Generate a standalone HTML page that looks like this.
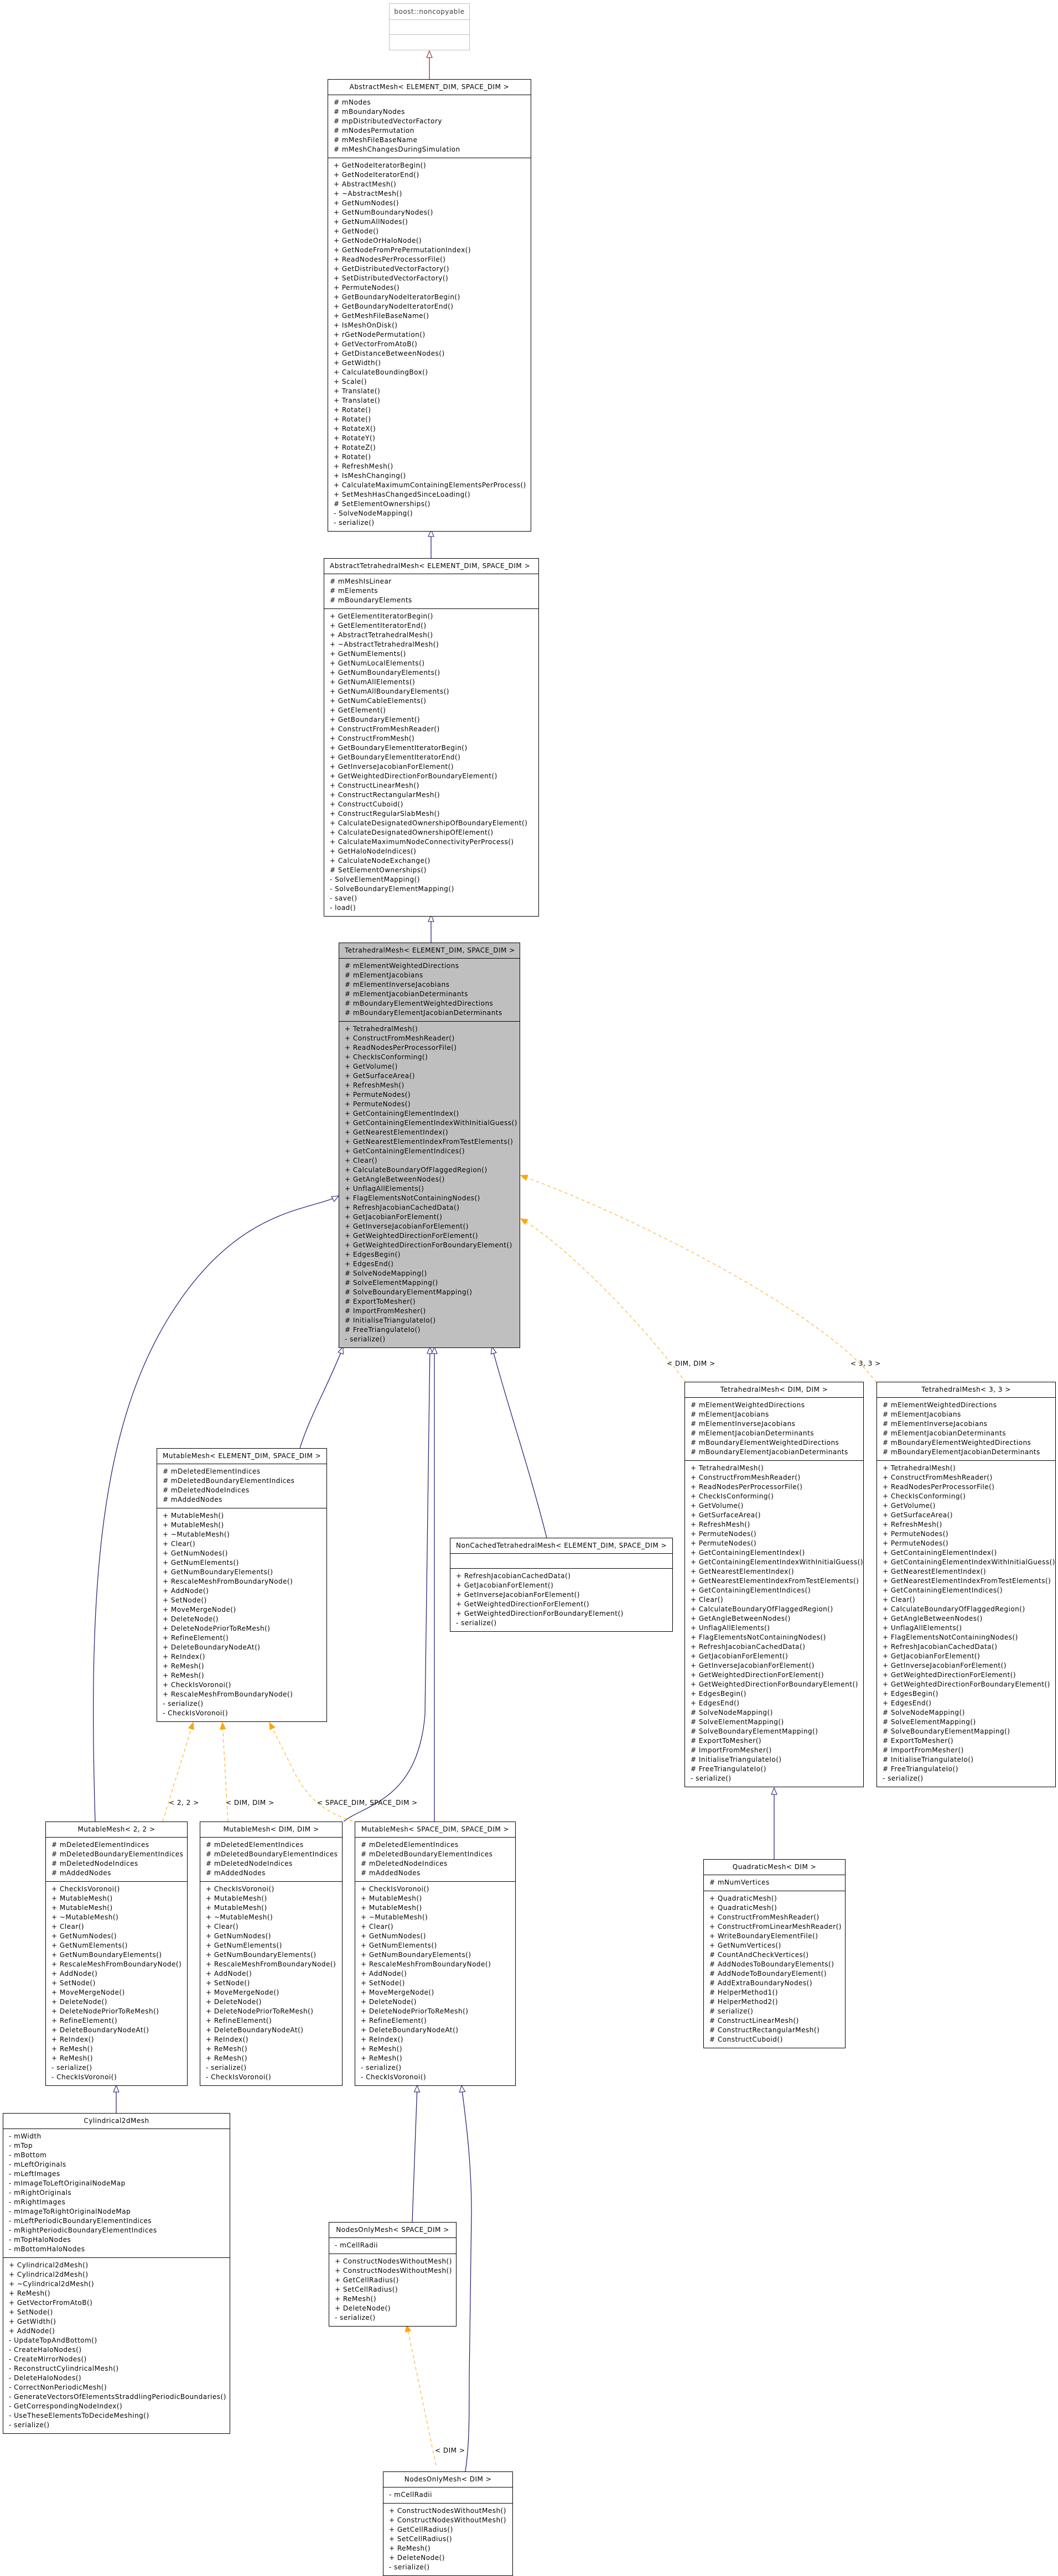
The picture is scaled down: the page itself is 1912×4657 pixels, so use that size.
<!DOCTYPE html>
<html><head><meta charset="utf-8">
<style>
html,body{margin:0;padding:0;background:#fff;}
body{width:1912px;height:4653px;position:relative;overflow:hidden;}
.b{position:absolute;box-sizing:border-box;border:1px solid #000;background:#fff;font-family:"DejaVu Sans","Liberation Sans",sans-serif;font-size:12px;line-height:17px;color:#000;letter-spacing:0.5px;}
.g{background:#bfbfbf;}
.h{height:27px;line-height:27px;text-align:center;border-bottom:1px solid #000;white-space:nowrap;}
.h.l{text-align:left;padding-left:10px;}
.s{padding:5px 10px 6px;white-space:pre;}
.a{border-bottom:1px solid #000;}
.e{height:26px;border-bottom:1px solid #000;}
.nc{border-color:#bfbfbf;color:#404040;}
.nc .h,.nc .e{border-color:#bfbfbf;}
svg{position:absolute;left:0;top:0;}
</style></head><body>

<svg width="1912" height="4653" viewBox="0 0 1912 4653" font-family="DejaVu Sans, Liberation Sans, sans-serif" font-size="12" letter-spacing="0.5">
<defs>
<marker id="hb" markerUnits="userSpaceOnUse" markerWidth="16" markerHeight="14" refX="13" refY="6" orient="auto"><path d="M1,1 L13,6 L1,11 z" fill="#fff" stroke="#191970" stroke-width="1"/></marker>
<marker id="hr" markerUnits="userSpaceOnUse" markerWidth="16" markerHeight="14" refX="13" refY="6" orient="auto"><path d="M1,1 L13,6 L1,11 z" fill="#fff" stroke="#8b1a1a" stroke-width="1"/></marker>
<marker id="ho" markerUnits="userSpaceOnUse" markerWidth="16" markerHeight="14" refX="13" refY="6" orient="auto"><path d="M1,1 L13,6 L1,11 z" fill="#ffa500" stroke="#ffa500" stroke-width="1"/></marker>
</defs>
<g fill="none" stroke-width="1.2">
<path d="M776,143 L776,92" stroke="#8b1a1a" marker-end="url(#hr)"/>
<path d="M779,1009 L779,958" stroke="#191970" marker-end="url(#hb)"/>
<path d="M779,1704 L779,1654" stroke="#191970" marker-end="url(#hb)"/>
<path d="M172,3293 C160,2900 175,2600 300,2390 S560,2190 612,2162" stroke="#191970" marker-end="url(#hb)"/>
<path d="M542,2618 C560,2560 595,2500 620,2435" stroke="#191970" marker-end="url(#hb)"/>
<path d="M621,3293 C660,3262 755,3255 768,3100 L777,2435" stroke="#191970" marker-end="url(#hb)"/>
<path d="M785,3293 L785,2435" stroke="#191970" marker-end="url(#hb)"/>
<path d="M988,2780 C955,2650 920,2550 889,2435" stroke="#191970" marker-end="url(#hb)"/>
<path d="M1399,3361 L1399,3232" stroke="#191970" marker-end="url(#hb)"/>
<path d="M210,3820 L210,3770" stroke="#191970" marker-end="url(#hb)"/>
<path d="M745,4017 L754,3770" stroke="#191970" marker-end="url(#hb)"/>
<path d="M841,4468 C848,4420 848,4380 848,4300 L852,4000 C852,3900 840,3820 834,3770" stroke="#191970" marker-end="url(#hb)"/>
<g stroke="#ffa500" stroke-dasharray="6,5" stroke-width="1">
<path d="M1240,2500 C1150,2380 1020,2250 941,2203" marker-end="url(#ho)"/>
<path d="M1584,2500 C1500,2380 1150,2200 941,2125" marker-end="url(#ho)"/>
<path d="M294,3293 L349,3114" marker-end="url(#ho)"/>
<path d="M412,3293 L402,3114" marker-end="url(#ho)"/>
<path d="M648,3295 C600,3282 560,3262 530,3200 L487,3114" marker-end="url(#ho)"/>
<path d="M788,4457 L735,4203" marker-end="url(#ho)"/>
</g>
</g>
<g fill="#000">
<text x="1205" y="2469">&lt; DIM, DIM &gt;</text>
<text x="1537" y="2469">&lt; 3, 3 &gt;</text>
<text x="305" y="3263">&lt; 2, 2 &gt;</text>
<text x="408" y="3263">&lt; DIM, DIM &gt;</text>
<text x="573" y="3263">&lt; SPACE_DIM, SPACE_DIM &gt;</text>
<text x="786" y="4434">&lt; DIM &gt;</text>
</g>
</svg>

<div class="b nc" style="left:703px;top:6px;width:146px;">
<div class="h" style="height:28px;line-height:28px;">boost::noncopyable</div>
<div class="e"></div>
<div style="height:27px;"></div>
</div>

<div class="b" style="left:592px;top:143px;width:368px;">
<div class="h">AbstractMesh&lt; ELEMENT_DIM, SPACE_DIM &gt;</div>
<div class="s a"># mNodes
# mBoundaryNodes
# mpDistributedVectorFactory
# mNodesPermutation
# mMeshFileBaseName
# mMeshChangesDuringSimulation</div>
<div class="s">+ GetNodeIteratorBegin()
+ GetNodeIteratorEnd()
+ AbstractMesh()
+ ~AbstractMesh()
+ GetNumNodes()
+ GetNumBoundaryNodes()
+ GetNumAllNodes()
+ GetNode()
+ GetNodeOrHaloNode()
+ GetNodeFromPrePermutationIndex()
+ ReadNodesPerProcessorFile()
+ GetDistributedVectorFactory()
+ SetDistributedVectorFactory()
+ PermuteNodes()
+ GetBoundaryNodeIteratorBegin()
+ GetBoundaryNodeIteratorEnd()
+ GetMeshFileBaseName()
+ IsMeshOnDisk()
+ rGetNodePermutation()
+ GetVectorFromAtoB()
+ GetDistanceBetweenNodes()
+ GetWidth()
+ CalculateBoundingBox()
+ Scale()
+ Translate()
+ Translate()
+ Rotate()
+ Rotate()
+ RotateX()
+ RotateY()
+ RotateZ()
+ Rotate()
+ RefreshMesh()
+ IsMeshChanging()
+ CalculateMaximumContainingElementsPerProcess()
+ SetMeshHasChangedSinceLoading()
# SetElementOwnerships()
- SolveNodeMapping()
- serialize()</div>
</div>

<div class="b" style="left:585px;top:1009px;width:389px;">
<div class="h l">AbstractTetrahedralMesh&lt; ELEMENT_DIM, SPACE_DIM &gt;</div>
<div class="s a"># mMeshIsLinear
# mElements
# mBoundaryElements</div>
<div class="s">+ GetElementIteratorBegin()
+ GetElementIteratorEnd()
+ AbstractTetrahedralMesh()
+ ~AbstractTetrahedralMesh()
+ GetNumElements()
+ GetNumLocalElements()
+ GetNumBoundaryElements()
+ GetNumAllElements()
+ GetNumAllBoundaryElements()
+ GetNumCableElements()
+ GetElement()
+ GetBoundaryElement()
+ ConstructFromMeshReader()
+ ConstructFromMesh()
+ GetBoundaryElementIteratorBegin()
+ GetBoundaryElementIteratorEnd()
+ GetInverseJacobianForElement()
+ GetWeightedDirectionForBoundaryElement()
+ ConstructLinearMesh()
+ ConstructRectangularMesh()
+ ConstructCuboid()
+ ConstructRegularSlabMesh()
+ CalculateDesignatedOwnershipOfBoundaryElement()
+ CalculateDesignatedOwnershipOfElement()
+ CalculateMaximumNodeConnectivityPerProcess()
+ GetHaloNodeIndices()
+ CalculateNodeExchange()
# SetElementOwnerships()
- SolveElementMapping()
- SolveBoundaryElementMapping()
- save()
- load()</div>
</div>

<div class="b g" style="left:612px;top:1704px;width:328px;">
<div class="h l">TetrahedralMesh&lt; ELEMENT_DIM, SPACE_DIM &gt;</div>
<div class="s a"># mElementWeightedDirections
# mElementJacobians
# mElementInverseJacobians
# mElementJacobianDeterminants
# mBoundaryElementWeightedDirections
# mBoundaryElementJacobianDeterminants</div>
<div class="s">+ TetrahedralMesh()
+ ConstructFromMeshReader()
+ ReadNodesPerProcessorFile()
+ CheckIsConforming()
+ GetVolume()
+ GetSurfaceArea()
+ RefreshMesh()
+ PermuteNodes()
+ PermuteNodes()
+ GetContainingElementIndex()
+ GetContainingElementIndexWithInitialGuess()
+ GetNearestElementIndex()
+ GetNearestElementIndexFromTestElements()
+ GetContainingElementIndices()
+ Clear()
+ CalculateBoundaryOfFlaggedRegion()
+ GetAngleBetweenNodes()
+ UnflagAllElements()
+ FlagElementsNotContainingNodes()
+ RefreshJacobianCachedData()
+ GetJacobianForElement()
+ GetInverseJacobianForElement()
+ GetWeightedDirectionForElement()
+ GetWeightedDirectionForBoundaryElement()
+ EdgesBegin()
+ EdgesEnd()
# SolveNodeMapping()
# SolveElementMapping()
# SolveBoundaryElementMapping()
# ExportToMesher()
# ImportFromMesher()
# InitialiseTriangulateIo()
# FreeTriangulateIo()
- serialize()</div>
</div>

<div class="b" style="left:283px;top:2618px;width:308px;">
<div class="h l">MutableMesh&lt; ELEMENT_DIM, SPACE_DIM &gt;</div>
<div class="s a"># mDeletedElementIndices
# mDeletedBoundaryElementIndices
# mDeletedNodeIndices
# mAddedNodes</div>
<div class="s">+ MutableMesh()
+ MutableMesh()
+ ~MutableMesh()
+ Clear()
+ GetNumNodes()
+ GetNumElements()
+ GetNumBoundaryElements()
+ RescaleMeshFromBoundaryNode()
+ AddNode()
+ SetNode()
+ MoveMergeNode()
+ DeleteNode()
+ DeleteNodePriorToReMesh()
+ RefineElement()
+ DeleteBoundaryNodeAt()
+ ReIndex()
+ ReMesh()
+ ReMesh()
+ CheckIsVoronoi()
+ RescaleMeshFromBoundaryNode()
- serialize()
- CheckIsVoronoi()</div>
</div>

<div class="b" style="left:813px;top:2780px;width:403px;">
<div class="h l">NonCachedTetrahedralMesh&lt; ELEMENT_DIM, SPACE_DIM &gt;</div>
<div class="e"></div>
<div class="s">+ RefreshJacobianCachedData()
+ GetJacobianForElement()
+ GetInverseJacobianForElement()
+ GetWeightedDirectionForElement()
+ GetWeightedDirectionForBoundaryElement()
- serialize()</div>
</div>

<div class="b" style="left:1237px;top:2498px;width:324px;">
<div class="h">TetrahedralMesh&lt; DIM, DIM &gt;</div>
<div class="s a"># mElementWeightedDirections
# mElementJacobians
# mElementInverseJacobians
# mElementJacobianDeterminants
# mBoundaryElementWeightedDirections
# mBoundaryElementJacobianDeterminants</div>
<div class="s">+ TetrahedralMesh()
+ ConstructFromMeshReader()
+ ReadNodesPerProcessorFile()
+ CheckIsConforming()
+ GetVolume()
+ GetSurfaceArea()
+ RefreshMesh()
+ PermuteNodes()
+ PermuteNodes()
+ GetContainingElementIndex()
+ GetContainingElementIndexWithInitialGuess()
+ GetNearestElementIndex()
+ GetNearestElementIndexFromTestElements()
+ GetContainingElementIndices()
+ Clear()
+ CalculateBoundaryOfFlaggedRegion()
+ GetAngleBetweenNodes()
+ UnflagAllElements()
+ FlagElementsNotContainingNodes()
+ RefreshJacobianCachedData()
+ GetJacobianForElement()
+ GetInverseJacobianForElement()
+ GetWeightedDirectionForElement()
+ GetWeightedDirectionForBoundaryElement()
+ EdgesBegin()
+ EdgesEnd()
# SolveNodeMapping()
# SolveElementMapping()
# SolveBoundaryElementMapping()
# ExportToMesher()
# ImportFromMesher()
# InitialiseTriangulateIo()
# FreeTriangulateIo()
- serialize()</div>
</div>

<div class="b" style="left:1584px;top:2498px;width:324px;">
<div class="h">TetrahedralMesh&lt; 3, 3 &gt;</div>
<div class="s a"># mElementWeightedDirections
# mElementJacobians
# mElementInverseJacobians
# mElementJacobianDeterminants
# mBoundaryElementWeightedDirections
# mBoundaryElementJacobianDeterminants</div>
<div class="s">+ TetrahedralMesh()
+ ConstructFromMeshReader()
+ ReadNodesPerProcessorFile()
+ CheckIsConforming()
+ GetVolume()
+ GetSurfaceArea()
+ RefreshMesh()
+ PermuteNodes()
+ PermuteNodes()
+ GetContainingElementIndex()
+ GetContainingElementIndexWithInitialGuess()
+ GetNearestElementIndex()
+ GetNearestElementIndexFromTestElements()
+ GetContainingElementIndices()
+ Clear()
+ CalculateBoundaryOfFlaggedRegion()
+ GetAngleBetweenNodes()
+ UnflagAllElements()
+ FlagElementsNotContainingNodes()
+ RefreshJacobianCachedData()
+ GetJacobianForElement()
+ GetInverseJacobianForElement()
+ GetWeightedDirectionForElement()
+ GetWeightedDirectionForBoundaryElement()
+ EdgesBegin()
+ EdgesEnd()
# SolveNodeMapping()
# SolveElementMapping()
# SolveBoundaryElementMapping()
# ExportToMesher()
# ImportFromMesher()
# InitialiseTriangulateIo()
# FreeTriangulateIo()
- serialize()</div>
</div>

<div class="b" style="left:1271px;top:3361px;width:257px;">
<div class="h">QuadraticMesh&lt; DIM &gt;</div>
<div class="s a"># mNumVertices</div>
<div class="s">+ QuadraticMesh()
+ QuadraticMesh()
+ ConstructFromMeshReader()
+ ConstructFromLinearMeshReader()
+ WriteBoundaryElementFile()
+ GetNumVertices()
# CountAndCheckVertices()
# AddNodesToBoundaryElements()
# AddNodeToBoundaryElement()
# AddExtraBoundaryNodes()
# HelperMethod1()
# HelperMethod2()
# serialize()
# ConstructLinearMesh()
# ConstructRectangularMesh()
# ConstructCuboid()</div>
</div>

<div class="b" style="left:82px;top:3293px;width:257px;">
<div class="h">MutableMesh&lt; 2, 2 &gt;</div>
<div class="s a"># mDeletedElementIndices
# mDeletedBoundaryElementIndices
# mDeletedNodeIndices
# mAddedNodes</div>
<div class="s">+ CheckIsVoronoi()
+ MutableMesh()
+ MutableMesh()
+ ~MutableMesh()
+ Clear()
+ GetNumNodes()
+ GetNumElements()
+ GetNumBoundaryElements()
+ RescaleMeshFromBoundaryNode()
+ AddNode()
+ SetNode()
+ MoveMergeNode()
+ DeleteNode()
+ DeleteNodePriorToReMesh()
+ RefineElement()
+ DeleteBoundaryNodeAt()
+ ReIndex()
+ ReMesh()
+ ReMesh()
- serialize()
- CheckIsVoronoi()</div>
</div>

<div class="b" style="left:361px;top:3293px;width:258px;">
<div class="h">MutableMesh&lt; DIM, DIM &gt;</div>
<div class="s a"># mDeletedElementIndices
# mDeletedBoundaryElementIndices
# mDeletedNodeIndices
# mAddedNodes</div>
<div class="s">+ CheckIsVoronoi()
+ MutableMesh()
+ MutableMesh()
+ ~MutableMesh()
+ Clear()
+ GetNumNodes()
+ GetNumElements()
+ GetNumBoundaryElements()
+ RescaleMeshFromBoundaryNode()
+ AddNode()
+ SetNode()
+ MoveMergeNode()
+ DeleteNode()
+ DeleteNodePriorToReMesh()
+ RefineElement()
+ DeleteBoundaryNodeAt()
+ ReIndex()
+ ReMesh()
+ ReMesh()
- serialize()
- CheckIsVoronoi()</div>
</div>

<div class="b" style="left:641px;top:3293px;width:291px;">
<div class="h">MutableMesh&lt; SPACE_DIM, SPACE_DIM &gt;</div>
<div class="s a"># mDeletedElementIndices
# mDeletedBoundaryElementIndices
# mDeletedNodeIndices
# mAddedNodes</div>
<div class="s">+ CheckIsVoronoi()
+ MutableMesh()
+ MutableMesh()
+ ~MutableMesh()
+ Clear()
+ GetNumNodes()
+ GetNumElements()
+ GetNumBoundaryElements()
+ RescaleMeshFromBoundaryNode()
+ AddNode()
+ SetNode()
+ MoveMergeNode()
+ DeleteNode()
+ DeleteNodePriorToReMesh()
+ RefineElement()
+ DeleteBoundaryNodeAt()
+ ReIndex()
+ ReMesh()
+ ReMesh()
- serialize()
- CheckIsVoronoi()</div>
</div>

<div class="b" style="left:5px;top:3820px;width:411px;">
<div class="h">Cylindrical2dMesh</div>
<div class="s a">- mWidth
- mTop
- mBottom
- mLeftOriginals
- mLeftImages
- mImageToLeftOriginalNodeMap
- mRightOriginals
- mRightImages
- mImageToRightOriginalNodeMap
- mLeftPeriodicBoundaryElementIndices
- mRightPeriodicBoundaryElementIndices
- mTopHaloNodes
- mBottomHaloNodes</div>
<div class="s">+ Cylindrical2dMesh()
+ Cylindrical2dMesh()
+ ~Cylindrical2dMesh()
+ ReMesh()
+ GetVectorFromAtoB()
+ SetNode()
+ GetWidth()
+ AddNode()
- UpdateTopAndBottom()
- CreateHaloNodes()
- CreateMirrorNodes()
- ReconstructCylindricalMesh()
- DeleteHaloNodes()
- CorrectNonPeriodicMesh()
- GenerateVectorsOfElementsStraddlingPeriodicBoundaries()
- GetCorrespondingNodeIndex()
- UseTheseElementsToDecideMeshing()
- serialize()</div>
</div>

<div class="b" style="left:594px;top:4017px;width:231px;">
<div class="h">NodesOnlyMesh&lt; SPACE_DIM &gt;</div>
<div class="s a">- mCellRadii</div>
<div class="s">+ ConstructNodesWithoutMesh()
+ ConstructNodesWithoutMesh()
+ GetCellRadius()
+ SetCellRadius()
+ ReMesh()
+ DeleteNode()
- serialize()</div>
</div>

<div class="b" style="left:692px;top:4468px;width:235px;">
<div class="h">NodesOnlyMesh&lt; DIM &gt;</div>
<div class="s a">- mCellRadii</div>
<div class="s">+ ConstructNodesWithoutMesh()
+ ConstructNodesWithoutMesh()
+ GetCellRadius()
+ SetCellRadius()
+ ReMesh()
+ DeleteNode()
- serialize()</div>
</div>

</body></html>
